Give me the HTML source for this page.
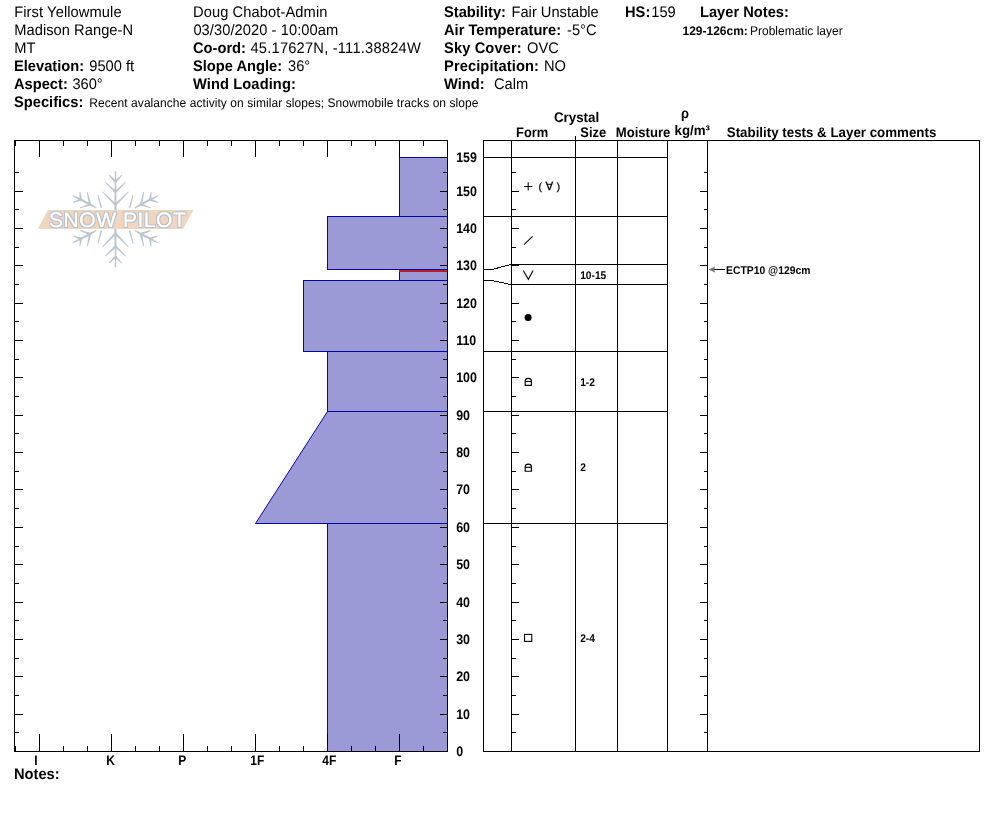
<!DOCTYPE html>
<html lang="en"><head><meta charset="utf-8"><title>Snow Pit Profile - First Yellowmule</title>
<style>html,body{margin:0;padding:0;background:#fff}body{width:994px;height:840px;overflow:hidden}svg{display:block}text{text-rendering:geometricPrecision;font-family:"Liberation Sans",Arial,Helvetica,sans-serif;fill:#000}</style>
</head><body>
<svg width="994" height="840" viewBox="0 0 994 840">
<rect x="0" y="0" width="994" height="840" fill="#fff"/>
<g id="header">
<text transform="translate(14.2,17) scale(0.9569,1)" font-size="15.33" letter-spacing="0.1" >First Yellowmule</text>
<text transform="translate(14.2,35) scale(0.9569,1)" font-size="15.33" letter-spacing="0.05" >Madison Range-N</text>
<text transform="translate(14.2,53) scale(0.9569,1)" font-size="15.33" >MT</text>
<text transform="translate(14,71) scale(0.9569,1)" font-size="15.33" font-weight="bold" >Elevation:</text>
<text transform="translate(89.3,71) scale(0.9569,1)" font-size="15.33" >9500 ft</text>
<text transform="translate(14,89) scale(0.9569,1)" font-size="15.33" font-weight="bold" >Aspect:</text>
<text transform="translate(72.4,89) scale(0.9569,1)" font-size="15.33" >360°</text>
<text transform="translate(14,107) scale(0.9569,1)" font-size="15.33" font-weight="bold" >Specifics:</text>
<text transform="translate(89.3,107) scale(0.9569,1)" font-size="12.54" letter-spacing="0.068" >Recent avalanche activity on similar slopes; Snowmobile tracks on slope</text>
<text transform="translate(193,17) scale(0.9569,1)" font-size="15.33" letter-spacing="0.1" >Doug Chabot-Admin</text>
<text transform="translate(193.4,35) scale(0.9569,1)" font-size="15.33" letter-spacing="0.07" >03/30/2020 - 10:00am</text>
<text transform="translate(193,53) scale(0.9569,1)" font-size="15.33" font-weight="bold" >Co-ord:</text>
<text transform="translate(250.5,53) scale(0.9569,1)" font-size="15.33" letter-spacing="0.22" >45.17627N, -111.38824W</text>
<text transform="translate(193,71) scale(0.9569,1)" font-size="15.33" font-weight="bold" >Slope Angle:</text>
<text transform="translate(288,71) scale(0.9569,1)" font-size="15.33" >36°</text>
<text transform="translate(193,89) scale(0.9569,1)" font-size="15.33" font-weight="bold" letter-spacing="0.1" >Wind Loading:</text>
<text transform="translate(444,17) scale(0.9569,1)" font-size="15.33" font-weight="bold" >Stability:</text>
<text transform="translate(511.5,17) scale(0.9569,1)" font-size="15.33" >Fair Unstable</text>
<text transform="translate(444,35) scale(0.9569,1)" font-size="15.33" font-weight="bold" >Air Temperature:</text>
<text transform="translate(567,35) scale(0.9569,1)" font-size="15.33" >-5°C</text>
<text transform="translate(444,53) scale(0.9569,1)" font-size="15.33" font-weight="bold" letter-spacing="0.12" >Sky Cover:</text>
<text transform="translate(527,53) scale(0.9569,1)" font-size="15.33" >OVC</text>
<text transform="translate(444,71) scale(0.9569,1)" font-size="15.33" font-weight="bold" letter-spacing="0.1" >Precipitation:</text>
<text transform="translate(544,71) scale(0.9569,1)" font-size="15.33" >NO</text>
<text transform="translate(444,89) scale(0.9569,1)" font-size="15.33" font-weight="bold" >Wind:</text>
<text transform="translate(494,89) scale(0.9569,1)" font-size="15.33" >Calm</text>
<text transform="translate(625,17) scale(0.9569,1)" font-size="15.33" font-weight="bold" >HS:</text>
<text transform="translate(651.3,17) scale(0.9569,1)" font-size="15.33" >159</text>
<text transform="translate(700,17) scale(0.9569,1)" font-size="15.33" font-weight="bold" >Layer Notes:</text>
<text transform="translate(682.5,35) scale(0.9569,1)" font-size="12.54" font-weight="bold" >129-126cm:</text>
<text transform="translate(750,35) scale(0.9569,1)" font-size="12.54" >Problematic layer</text>
</g>
<g id="logo">
<g fill="#b9c6cf" stroke="none"><polygon points="116.60,210.00 116.15,171.20 114.85,171.20 114.40,210.00"/>
<polygon points="116.32,180.79 109.42,174.78 108.78,175.42 114.68,182.41"/>
<polygon points="116.32,182.41 122.22,175.42 121.58,174.78 114.68,180.79"/>
<polygon points="116.30,191.17 105.71,181.98 105.09,182.62 114.70,192.83"/>
<polygon points="116.30,192.83 125.91,182.62 125.29,181.98 114.70,191.17"/>
<polygon points="116.32,203.99 102.92,191.38 102.28,192.02 114.68,205.61"/>
<polygon points="116.32,205.61 128.72,192.02 128.08,191.38 114.68,203.99"/>
<polygon points="102.22,207.58 98.38,194.77 97.42,195.03 100.58,208.02"/>
<polygon points="96.49,207.38 90.64,203.54 89.56,205.46 95.91,208.42"/>
<polygon points="90.61,203.52 81.36,198.81 80.44,200.59 89.59,205.48"/>
<polygon points="81.41,198.72 73.01,195.10 72.59,195.90 80.39,200.68"/>
<polygon points="82.04,199.55 80.35,191.94 79.45,192.06 79.76,199.85"/>
<polygon points="80.52,198.62 72.85,202.08 73.15,202.92 81.28,200.78"/>
<polygon points="91.22,204.24 87.74,192.10 86.86,192.30 88.98,204.76"/>
<polygon points="89.73,203.41 79.96,207.47 80.24,208.33 90.47,205.59"/>
<polygon points="130.42,208.02 133.58,195.03 132.62,194.77 128.78,207.58"/>
<polygon points="135.09,208.42 141.44,205.46 140.36,203.54 134.51,207.38"/>
<polygon points="141.41,205.48 150.56,200.59 149.64,198.81 140.39,203.52"/>
<polygon points="150.61,200.68 158.41,195.90 157.99,195.10 149.59,198.72"/>
<polygon points="151.24,199.85 151.55,192.06 150.65,191.94 148.96,199.55"/>
<polygon points="149.72,200.78 157.85,202.92 158.15,202.08 150.48,198.62"/>
<polygon points="142.02,204.76 144.14,192.30 143.26,192.10 139.78,204.24"/>
<polygon points="140.53,205.59 150.76,208.33 151.04,207.47 141.27,203.41"/></g>
<g fill="#b9c6cf" stroke="none" transform="translate(0,438.4) scale(1,-1)"><polygon points="116.60,210.00 116.15,171.20 114.85,171.20 114.40,210.00"/>
<polygon points="116.32,180.79 109.42,174.78 108.78,175.42 114.68,182.41"/>
<polygon points="116.32,182.41 122.22,175.42 121.58,174.78 114.68,180.79"/>
<polygon points="116.30,191.17 105.71,181.98 105.09,182.62 114.70,192.83"/>
<polygon points="116.30,192.83 125.91,182.62 125.29,181.98 114.70,191.17"/>
<polygon points="116.32,203.99 102.92,191.38 102.28,192.02 114.68,205.61"/>
<polygon points="116.32,205.61 128.72,192.02 128.08,191.38 114.68,203.99"/>
<polygon points="102.22,207.58 98.38,194.77 97.42,195.03 100.58,208.02"/>
<polygon points="96.49,207.38 90.64,203.54 89.56,205.46 95.91,208.42"/>
<polygon points="90.61,203.52 81.36,198.81 80.44,200.59 89.59,205.48"/>
<polygon points="81.41,198.72 73.01,195.10 72.59,195.90 80.39,200.68"/>
<polygon points="82.04,199.55 80.35,191.94 79.45,192.06 79.76,199.85"/>
<polygon points="80.52,198.62 72.85,202.08 73.15,202.92 81.28,200.78"/>
<polygon points="91.22,204.24 87.74,192.10 86.86,192.30 88.98,204.76"/>
<polygon points="89.73,203.41 79.96,207.47 80.24,208.33 90.47,205.59"/>
<polygon points="130.42,208.02 133.58,195.03 132.62,194.77 128.78,207.58"/>
<polygon points="135.09,208.42 141.44,205.46 140.36,203.54 134.51,207.38"/>
<polygon points="141.41,205.48 150.56,200.59 149.64,198.81 140.39,203.52"/>
<polygon points="150.61,200.68 158.41,195.90 157.99,195.10 149.59,198.72"/>
<polygon points="151.24,199.85 151.55,192.06 150.65,191.94 148.96,199.55"/>
<polygon points="149.72,200.78 157.85,202.92 158.15,202.08 150.48,198.62"/>
<polygon points="142.02,204.76 144.14,192.30 143.26,192.10 139.78,204.24"/>
<polygon points="140.53,205.59 150.76,208.33 151.04,207.47 141.27,203.41"/></g>
<polygon points="47.9,210 193.6,210 183.1,229 37.9,229" fill="#f1d6bf"/>
<filter id="ol" x="-5%" y="-20%" width="110%" height="140%"><feMorphology in="SourceAlpha" operator="dilate" radius="0.55" result="d"/><feFlood flood-color="#b6c1c9"/><feComposite in2="d" operator="in" result="o"/><feMerge><feMergeNode in="o"/><feMergeNode in="SourceGraphic"/></feMerge></filter>
<text x="49" y="227" font-size="21" letter-spacing="0.55" filter="url(#ol)" style="fill:#fff;stroke:#fff;stroke-width:0.15px">SNOW PILOT</text>
</g>
<g id="profile" shape-rendering="crispEdges">
<polygon points="399.5,157.5 447.5,157.5 447.5,216.5 399.5,216.5" fill="#9b99d6" stroke="#0606a6" stroke-width="1"/>
<polygon points="327.5,216.5 447.5,216.5 447.5,269.5 327.5,269.5" fill="#9b99d6" stroke="#0606a6" stroke-width="1"/>
<polygon points="399.5,269.5 447.5,269.5 447.5,280.5 399.5,280.5" fill="#9b99d6" stroke="#0606a6" stroke-width="1"/>
<polygon points="303.5,280.5 447.5,280.5 447.5,351.5 303.5,351.5" fill="#9b99d6" stroke="#0606a6" stroke-width="1"/>
<polygon points="327.5,351.5 447.5,351.5 447.5,411.5 327.5,411.5" fill="#9b99d6" stroke="#0606a6" stroke-width="1"/>
<polygon points="327.5,411.5 447.5,411.5 447.5,523.5 255.5,523.5" fill="#9b99d6" stroke="#0606a6" stroke-width="1" shape-rendering="geometricPrecision"/>
<polygon points="327.5,523.5 447.5,523.5 447.5,751.5 327.5,751.5" fill="#9b99d6" stroke="#0606a6" stroke-width="1"/>
<rect x="399.0" y="270.0" width="48.0" height="2" fill="#b81c26"/>
<rect x="14.5" y="140.5" width="433.0" height="611.0" fill="none" stroke="#000"/>
<line x1="15.5" y1="140.5" x2="15.5" y2="146.0" stroke="#000"/>
<line x1="15.5" y1="746.0" x2="15.5" y2="751.5" stroke="#000"/>
<line x1="39.5" y1="140.5" x2="39.5" y2="157.0" stroke="#000"/>
<line x1="39.5" y1="734.0" x2="39.5" y2="751.5" stroke="#000"/>
<line x1="63.5" y1="140.5" x2="63.5" y2="146.0" stroke="#000"/>
<line x1="63.5" y1="746.0" x2="63.5" y2="751.5" stroke="#000"/>
<line x1="87.5" y1="140.5" x2="87.5" y2="146.0" stroke="#000"/>
<line x1="87.5" y1="746.0" x2="87.5" y2="751.5" stroke="#000"/>
<line x1="111.5" y1="140.5" x2="111.5" y2="157.0" stroke="#000"/>
<line x1="111.5" y1="734.0" x2="111.5" y2="751.5" stroke="#000"/>
<line x1="135.5" y1="140.5" x2="135.5" y2="146.0" stroke="#000"/>
<line x1="135.5" y1="746.0" x2="135.5" y2="751.5" stroke="#000"/>
<line x1="159.5" y1="140.5" x2="159.5" y2="146.0" stroke="#000"/>
<line x1="159.5" y1="746.0" x2="159.5" y2="751.5" stroke="#000"/>
<line x1="183.5" y1="140.5" x2="183.5" y2="157.0" stroke="#000"/>
<line x1="183.5" y1="734.0" x2="183.5" y2="751.5" stroke="#000"/>
<line x1="207.5" y1="140.5" x2="207.5" y2="146.0" stroke="#000"/>
<line x1="207.5" y1="746.0" x2="207.5" y2="751.5" stroke="#000"/>
<line x1="231.5" y1="140.5" x2="231.5" y2="146.0" stroke="#000"/>
<line x1="231.5" y1="746.0" x2="231.5" y2="751.5" stroke="#000"/>
<line x1="255.5" y1="140.5" x2="255.5" y2="157.0" stroke="#000"/>
<line x1="255.5" y1="734.0" x2="255.5" y2="751.5" stroke="#000"/>
<line x1="279.5" y1="140.5" x2="279.5" y2="146.0" stroke="#000"/>
<line x1="279.5" y1="746.0" x2="279.5" y2="751.5" stroke="#000"/>
<line x1="303.5" y1="140.5" x2="303.5" y2="146.0" stroke="#000"/>
<line x1="303.5" y1="746.0" x2="303.5" y2="751.5" stroke="#000"/>
<line x1="327.5" y1="140.5" x2="327.5" y2="157.0" stroke="#000"/>
<line x1="327.5" y1="734.0" x2="327.5" y2="751.5" stroke="#000"/>
<line x1="351.5" y1="140.5" x2="351.5" y2="146.0" stroke="#000"/>
<line x1="351.5" y1="746.0" x2="351.5" y2="751.5" stroke="#000"/>
<line x1="375.5" y1="140.5" x2="375.5" y2="146.0" stroke="#000"/>
<line x1="375.5" y1="746.0" x2="375.5" y2="751.5" stroke="#000"/>
<line x1="399.5" y1="140.5" x2="399.5" y2="157.0" stroke="#000"/>
<line x1="399.5" y1="734.0" x2="399.5" y2="751.5" stroke="#000"/>
<line x1="423.5" y1="140.5" x2="423.5" y2="146.0" stroke="#000"/>
<line x1="423.5" y1="746.0" x2="423.5" y2="751.5" stroke="#000"/>
<line x1="447.5" y1="140.5" x2="447.5" y2="146.0" stroke="#000"/>
<line x1="447.5" y1="746.0" x2="447.5" y2="751.5" stroke="#000"/>
<line x1="14.5" y1="751.5" x2="23.0" y2="751.5" stroke="#000"/>
<line x1="440.0" y1="751.5" x2="447.5" y2="751.5" stroke="#000"/>
<line x1="14.5" y1="732.5" x2="19.0" y2="732.5" stroke="#000"/>
<line x1="443.0" y1="732.5" x2="447.5" y2="732.5" stroke="#000"/>
<line x1="14.5" y1="714.5" x2="23.0" y2="714.5" stroke="#000"/>
<line x1="440.0" y1="714.5" x2="447.5" y2="714.5" stroke="#000"/>
<line x1="14.5" y1="695.5" x2="19.0" y2="695.5" stroke="#000"/>
<line x1="443.0" y1="695.5" x2="447.5" y2="695.5" stroke="#000"/>
<line x1="14.5" y1="676.5" x2="23.0" y2="676.5" stroke="#000"/>
<line x1="440.0" y1="676.5" x2="447.5" y2="676.5" stroke="#000"/>
<line x1="14.5" y1="658.5" x2="19.0" y2="658.5" stroke="#000"/>
<line x1="443.0" y1="658.5" x2="447.5" y2="658.5" stroke="#000"/>
<line x1="14.5" y1="639.5" x2="23.0" y2="639.5" stroke="#000"/>
<line x1="440.0" y1="639.5" x2="447.5" y2="639.5" stroke="#000"/>
<line x1="14.5" y1="620.5" x2="19.0" y2="620.5" stroke="#000"/>
<line x1="443.0" y1="620.5" x2="447.5" y2="620.5" stroke="#000"/>
<line x1="14.5" y1="602.5" x2="23.0" y2="602.5" stroke="#000"/>
<line x1="440.0" y1="602.5" x2="447.5" y2="602.5" stroke="#000"/>
<line x1="14.5" y1="583.5" x2="19.0" y2="583.5" stroke="#000"/>
<line x1="443.0" y1="583.5" x2="447.5" y2="583.5" stroke="#000"/>
<line x1="14.5" y1="564.5" x2="23.0" y2="564.5" stroke="#000"/>
<line x1="440.0" y1="564.5" x2="447.5" y2="564.5" stroke="#000"/>
<line x1="14.5" y1="546.5" x2="19.0" y2="546.5" stroke="#000"/>
<line x1="443.0" y1="546.5" x2="447.5" y2="546.5" stroke="#000"/>
<line x1="14.5" y1="527.5" x2="23.0" y2="527.5" stroke="#000"/>
<line x1="440.0" y1="527.5" x2="447.5" y2="527.5" stroke="#000"/>
<line x1="14.5" y1="508.5" x2="19.0" y2="508.5" stroke="#000"/>
<line x1="443.0" y1="508.5" x2="447.5" y2="508.5" stroke="#000"/>
<line x1="14.5" y1="489.5" x2="23.0" y2="489.5" stroke="#000"/>
<line x1="440.0" y1="489.5" x2="447.5" y2="489.5" stroke="#000"/>
<line x1="14.5" y1="471.5" x2="19.0" y2="471.5" stroke="#000"/>
<line x1="443.0" y1="471.5" x2="447.5" y2="471.5" stroke="#000"/>
<line x1="14.5" y1="452.5" x2="23.0" y2="452.5" stroke="#000"/>
<line x1="440.0" y1="452.5" x2="447.5" y2="452.5" stroke="#000"/>
<line x1="14.5" y1="433.5" x2="19.0" y2="433.5" stroke="#000"/>
<line x1="443.0" y1="433.5" x2="447.5" y2="433.5" stroke="#000"/>
<line x1="14.5" y1="415.5" x2="23.0" y2="415.5" stroke="#000"/>
<line x1="440.0" y1="415.5" x2="447.5" y2="415.5" stroke="#000"/>
<line x1="14.5" y1="396.5" x2="19.0" y2="396.5" stroke="#000"/>
<line x1="443.0" y1="396.5" x2="447.5" y2="396.5" stroke="#000"/>
<line x1="14.5" y1="377.5" x2="23.0" y2="377.5" stroke="#000"/>
<line x1="440.0" y1="377.5" x2="447.5" y2="377.5" stroke="#000"/>
<line x1="14.5" y1="359.5" x2="19.0" y2="359.5" stroke="#000"/>
<line x1="443.0" y1="359.5" x2="447.5" y2="359.5" stroke="#000"/>
<line x1="14.5" y1="340.5" x2="23.0" y2="340.5" stroke="#000"/>
<line x1="440.0" y1="340.5" x2="447.5" y2="340.5" stroke="#000"/>
<line x1="14.5" y1="321.5" x2="19.0" y2="321.5" stroke="#000"/>
<line x1="443.0" y1="321.5" x2="447.5" y2="321.5" stroke="#000"/>
<line x1="14.5" y1="303.5" x2="23.0" y2="303.5" stroke="#000"/>
<line x1="440.0" y1="303.5" x2="447.5" y2="303.5" stroke="#000"/>
<line x1="14.5" y1="284.5" x2="19.0" y2="284.5" stroke="#000"/>
<line x1="443.0" y1="284.5" x2="447.5" y2="284.5" stroke="#000"/>
<line x1="14.5" y1="265.5" x2="23.0" y2="265.5" stroke="#000"/>
<line x1="440.0" y1="265.5" x2="447.5" y2="265.5" stroke="#000"/>
<line x1="14.5" y1="247.5" x2="19.0" y2="247.5" stroke="#000"/>
<line x1="443.0" y1="247.5" x2="447.5" y2="247.5" stroke="#000"/>
<line x1="14.5" y1="228.5" x2="23.0" y2="228.5" stroke="#000"/>
<line x1="440.0" y1="228.5" x2="447.5" y2="228.5" stroke="#000"/>
<line x1="14.5" y1="209.5" x2="19.0" y2="209.5" stroke="#000"/>
<line x1="443.0" y1="209.5" x2="447.5" y2="209.5" stroke="#000"/>
<line x1="14.5" y1="191.5" x2="23.0" y2="191.5" stroke="#000"/>
<line x1="440.0" y1="191.5" x2="447.5" y2="191.5" stroke="#000"/>
<line x1="14.5" y1="172.5" x2="19.0" y2="172.5" stroke="#000"/>
<line x1="443.0" y1="172.5" x2="447.5" y2="172.5" stroke="#000"/>
<line x1="440.0" y1="157.5" x2="447.5" y2="157.5" stroke="#000"/>
</g>
<g id="axislabels" font-weight="bold">
<text transform="translate(456.2,756.0) scale(0.9,1)" font-size="13.8" >0</text>
<text transform="translate(456.2,719.0) scale(0.9,1)" font-size="13.8" >10</text>
<text transform="translate(456.2,681.0) scale(0.9,1)" font-size="13.8" >20</text>
<text transform="translate(456.2,644.0) scale(0.9,1)" font-size="13.8" >30</text>
<text transform="translate(456.2,607.0) scale(0.9,1)" font-size="13.8" >40</text>
<text transform="translate(456.2,569.0) scale(0.9,1)" font-size="13.8" >50</text>
<text transform="translate(456.2,532.0) scale(0.9,1)" font-size="13.8" >60</text>
<text transform="translate(456.2,494.0) scale(0.9,1)" font-size="13.8" >70</text>
<text transform="translate(456.2,457.0) scale(0.9,1)" font-size="13.8" >80</text>
<text transform="translate(456.2,420.0) scale(0.9,1)" font-size="13.8" >90</text>
<text transform="translate(456.2,382.0) scale(0.9,1)" font-size="13.8" >100</text>
<text transform="translate(456.2,345.0) scale(0.9,1)" font-size="13.8" >110</text>
<text transform="translate(456.2,308.0) scale(0.9,1)" font-size="13.8" >120</text>
<text transform="translate(456.2,270.0) scale(0.9,1)" font-size="13.8" >130</text>
<text transform="translate(456.2,233.0) scale(0.9,1)" font-size="13.8" >140</text>
<text transform="translate(456.2,196.0) scale(0.9,1)" font-size="13.8" >150</text>
<text transform="translate(456.2,162.0) scale(0.9,1)" font-size="13.8" >159</text>
<text transform="translate(34.3,765) scale(0.8612,1)" font-size="13.93" >I</text>
<text transform="translate(106.3,765) scale(0.8612,1)" font-size="13.93" >K</text>
<text transform="translate(178.3,765) scale(0.8612,1)" font-size="13.93" >P</text>
<text transform="translate(250.3,765) scale(0.8612,1)" font-size="13.93" >1F</text>
<text transform="translate(322.3,765) scale(0.8612,1)" font-size="13.93" >4F</text>
<text transform="translate(394.3,765) scale(0.8612,1)" font-size="13.93" >F</text>
</g>
<text transform="translate(14,779) scale(0.9569,1)" font-size="15.33" font-weight="bold" >Notes:</text>
<g id="table" shape-rendering="crispEdges" stroke="#000" fill="none">
<rect x="483.5" y="140.5" width="496.0" height="611.0"/>
<line x1="511.5" y1="140.5" x2="511.5" y2="751.5" />
<line x1="575.5" y1="135.5" x2="575.5" y2="751.5" />
<line x1="617.5" y1="140.5" x2="617.5" y2="751.5" />
<line x1="667.5" y1="140.5" x2="667.5" y2="751.5" />
<line x1="707.5" y1="140.5" x2="707.5" y2="751.5" />
<line x1="511.5" y1="157.5" x2="667.5" y2="157.5" />
<line x1="483.5" y1="157.5" x2="511.5" y2="157.5" />
<line x1="511.5" y1="216.5" x2="667.5" y2="216.5" />
<line x1="483.5" y1="216.5" x2="511.5" y2="216.5" />
<line x1="511.5" y1="264.5" x2="667.5" y2="264.5" />
<polyline points="483.5,269.5 492.0,269.5 510.5,264.5 511.5,264.5"/>
<line x1="511.5" y1="284.5" x2="667.5" y2="284.5" />
<polyline points="483.5,280.5 492.0,280.5 510.5,284.5 511.5,284.5"/>
<line x1="511.5" y1="351.5" x2="667.5" y2="351.5" />
<line x1="483.5" y1="351.5" x2="511.5" y2="351.5" />
<line x1="511.5" y1="411.5" x2="667.5" y2="411.5" />
<line x1="483.5" y1="411.5" x2="511.5" y2="411.5" />
<line x1="511.5" y1="523.5" x2="667.5" y2="523.5" />
<line x1="483.5" y1="523.5" x2="511.5" y2="523.5" />
<line x1="511.5" y1="732.5" x2="516.0" y2="732.5" />
<line x1="704.0" y1="732.5" x2="707.5" y2="732.5" />
<line x1="511.5" y1="714.5" x2="519.0" y2="714.5" />
<line x1="700.0" y1="714.5" x2="707.5" y2="714.5" />
<line x1="511.5" y1="695.5" x2="516.0" y2="695.5" />
<line x1="704.0" y1="695.5" x2="707.5" y2="695.5" />
<line x1="511.5" y1="676.5" x2="519.0" y2="676.5" />
<line x1="700.0" y1="676.5" x2="707.5" y2="676.5" />
<line x1="511.5" y1="658.5" x2="516.0" y2="658.5" />
<line x1="704.0" y1="658.5" x2="707.5" y2="658.5" />
<line x1="511.5" y1="639.5" x2="519.0" y2="639.5" />
<line x1="700.0" y1="639.5" x2="707.5" y2="639.5" />
<line x1="511.5" y1="620.5" x2="516.0" y2="620.5" />
<line x1="704.0" y1="620.5" x2="707.5" y2="620.5" />
<line x1="511.5" y1="602.5" x2="519.0" y2="602.5" />
<line x1="700.0" y1="602.5" x2="707.5" y2="602.5" />
<line x1="511.5" y1="583.5" x2="516.0" y2="583.5" />
<line x1="704.0" y1="583.5" x2="707.5" y2="583.5" />
<line x1="511.5" y1="564.5" x2="519.0" y2="564.5" />
<line x1="700.0" y1="564.5" x2="707.5" y2="564.5" />
<line x1="511.5" y1="546.5" x2="516.0" y2="546.5" />
<line x1="704.0" y1="546.5" x2="707.5" y2="546.5" />
<line x1="511.5" y1="527.5" x2="519.0" y2="527.5" />
<line x1="700.0" y1="527.5" x2="707.5" y2="527.5" />
<line x1="511.5" y1="508.5" x2="516.0" y2="508.5" />
<line x1="704.0" y1="508.5" x2="707.5" y2="508.5" />
<line x1="511.5" y1="489.5" x2="519.0" y2="489.5" />
<line x1="700.0" y1="489.5" x2="707.5" y2="489.5" />
<line x1="511.5" y1="471.5" x2="516.0" y2="471.5" />
<line x1="704.0" y1="471.5" x2="707.5" y2="471.5" />
<line x1="511.5" y1="452.5" x2="519.0" y2="452.5" />
<line x1="700.0" y1="452.5" x2="707.5" y2="452.5" />
<line x1="511.5" y1="433.5" x2="516.0" y2="433.5" />
<line x1="704.0" y1="433.5" x2="707.5" y2="433.5" />
<line x1="511.5" y1="415.5" x2="519.0" y2="415.5" />
<line x1="700.0" y1="415.5" x2="707.5" y2="415.5" />
<line x1="511.5" y1="396.5" x2="516.0" y2="396.5" />
<line x1="704.0" y1="396.5" x2="707.5" y2="396.5" />
<line x1="511.5" y1="377.5" x2="519.0" y2="377.5" />
<line x1="700.0" y1="377.5" x2="707.5" y2="377.5" />
<line x1="511.5" y1="359.5" x2="516.0" y2="359.5" />
<line x1="704.0" y1="359.5" x2="707.5" y2="359.5" />
<line x1="511.5" y1="340.5" x2="519.0" y2="340.5" />
<line x1="700.0" y1="340.5" x2="707.5" y2="340.5" />
<line x1="511.5" y1="321.5" x2="516.0" y2="321.5" />
<line x1="704.0" y1="321.5" x2="707.5" y2="321.5" />
<line x1="511.5" y1="303.5" x2="519.0" y2="303.5" />
<line x1="700.0" y1="303.5" x2="707.5" y2="303.5" />
<line x1="511.5" y1="284.5" x2="516.0" y2="284.5" />
<line x1="704.0" y1="284.5" x2="707.5" y2="284.5" />
<line x1="511.5" y1="265.5" x2="519.0" y2="265.5" />
<line x1="700.0" y1="265.5" x2="707.5" y2="265.5" />
<line x1="511.5" y1="247.5" x2="516.0" y2="247.5" />
<line x1="704.0" y1="247.5" x2="707.5" y2="247.5" />
<line x1="511.5" y1="228.5" x2="519.0" y2="228.5" />
<line x1="700.0" y1="228.5" x2="707.5" y2="228.5" />
<line x1="511.5" y1="209.5" x2="516.0" y2="209.5" />
<line x1="704.0" y1="209.5" x2="707.5" y2="209.5" />
<line x1="511.5" y1="191.5" x2="519.0" y2="191.5" />
<line x1="700.0" y1="191.5" x2="707.5" y2="191.5" />
<line x1="511.5" y1="172.5" x2="516.0" y2="172.5" />
<line x1="704.0" y1="172.5" x2="707.5" y2="172.5" />
</g>
<g id="theaders" font-weight="bold">
<text transform="translate(554,122) scale(0.9569,1)" font-size="13.93" >Crystal</text>
<text transform="translate(516,137) scale(0.9282,1)" font-size="13.93" >Form</text>
<text transform="translate(580.3,137) scale(0.9282,1)" font-size="13.93" >Size</text>
<text transform="translate(615.7,137) scale(0.9426,1)" font-size="13.93" >Moisture</text>
<text transform="translate(681,118) scale(0.9282,1)" font-size="13.93" >ρ</text>
<text transform="translate(674.5,135) scale(0.9569,1)" font-size="13.93" >kg/m³</text>
<text transform="translate(726.8,137) scale(0.9569,1)" font-size="13.93" >Stability tests &amp; Layer comments</text>
</g>
<g id="symbols">
<text transform="translate(522.75,190.5) rotate(0.1)" font-size="13" style="font-family:'DejaVu Sans',sans-serif">+</text>
<text x="538.6" y="190" font-size="10" stroke="#000" stroke-width="0.3">(</text>
<text x="545.4" y="190" font-size="11.3" stroke="#000" stroke-width="0.25" style="font-family:'DejaVu Sans',sans-serif">∀</text>
<text x="556.7" y="190" font-size="10" stroke="#000" stroke-width="0.3">)</text>
<g stroke="#000" fill="none" stroke-width="1.1">
<line x1="524" y1="244.6" x2="532.6" y2="236.4" />
<polyline points="523.3,270.4 528.3,279.3 533.1,270.4"/>
</g>
<circle cx="528.1" cy="317.5" r="3.5" fill="#000"/>
<g stroke="#000" fill="none" stroke-width="1.15"><path d="M525.2,385.40000000000003 V381.0 C525.2,377.5 531.4,377.5 531.4,381.0 V385.40000000000003 Z"/><line x1="525.2" y1="381.5" x2="531.4" y2="381.5"/></g>
<g stroke="#000" fill="none" stroke-width="1.15"><path d="M525.2,471.20000000000005 V466.8 C525.2,463.3 531.4,463.3 531.4,466.8 V471.20000000000005 Z"/><line x1="525.2" y1="467.3" x2="531.4" y2="467.3"/></g>
<rect x="524.55" y="634.4" width="7.2" height="7" fill="none" stroke="#000" stroke-width="1.1"/>
</g>
<g id="sizes" font-weight="bold">
<text transform="translate(580.2,279) scale(0.9139,1)" font-size="11.15" >10-15</text>
<text transform="translate(580.2,386) scale(0.9139,1)" font-size="11.15" >1-2</text>
<text transform="translate(580.2,471) scale(0.9139,1)" font-size="11.15" >2</text>
<text transform="translate(580.2,642) scale(0.9139,1)" font-size="11.15" >2-4</text>
</g>
<g id="tests">
<line x1="713.5" y1="269.5" x2="725" y2="269.5" stroke="#000" shape-rendering="crispEdges"/>
<polygon points="708.4,269.5 715,266.5 714.3,269.5 715,272.4" fill="#7a7a7a"/>
<text transform="translate(726,274) scale(0.9301,1)" font-size="11.15" font-weight="bold" >ECTP10 @129cm</text>
</g>
</svg>
</body></html>
